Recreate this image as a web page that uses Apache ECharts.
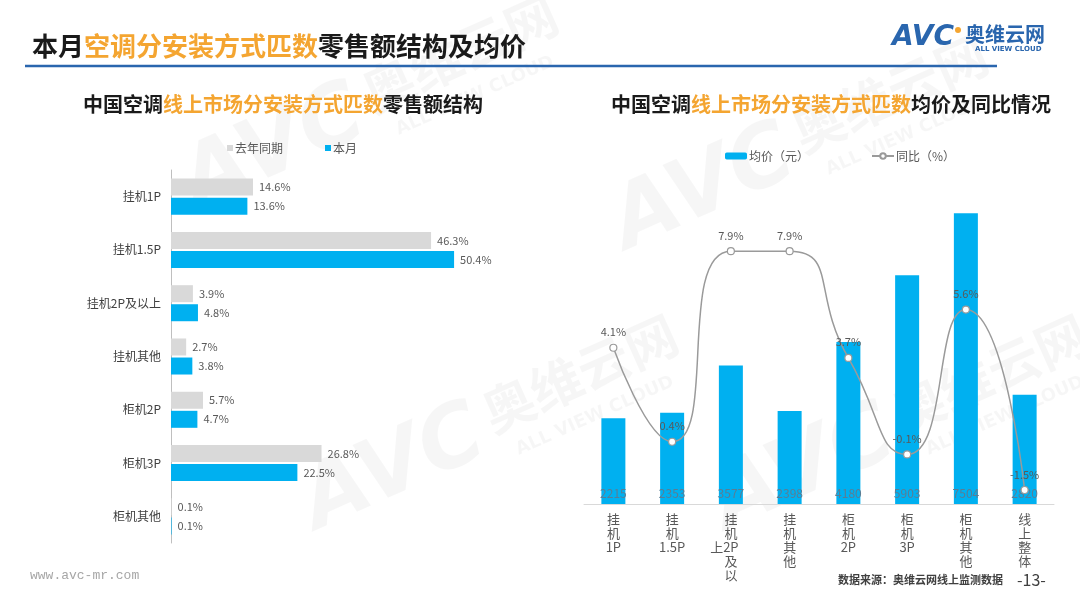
<!DOCTYPE html>
<html>
<head>
<meta charset="utf-8">
<script src="https://cdn.jsdelivr.net/npm/echarts@6/dist/echarts.min.js"></script>
<style>
  html, body { margin: 0; padding: 0; background: #fff; }
  #main { width: 1080px; height: 607px; }
</style>
</head>
<body>
<div id="main"></div>
<script>
// left chart: share of retail sales
const shareCats = ['挂机1P', '挂机1.5P', '挂机2P及以上', '挂机其他', '柜机2P', '柜机3P', '柜机其他'];
const shareLastYear = [14.6, 46.3, 3.9, 2.7, 5.7, 26.8, 0.1];
const shareThisMonth = [13.6, 50.4, 4.8, 3.8, 4.7, 22.5, 0.1];

// right chart: average price and yoy
const priceCats = ['挂机1P', '挂机1.5P', '挂机2P及以上', '挂机其他', '柜机2P', '柜机3P', '柜机其他', '线上整体'];
const avgPrice = [2215, 2353, 3577, 2398, 4180, 5903, 7504, 2820];
const yoy = [4.1, 0.4, 7.9, 7.9, 3.7, -0.1, 5.6, -1.5];

const colors = {
  blue: '#00B0F0',
  grey: '#D9D9D9',
  orange: '#F4A531',
  text: '#595959',
  dark: '#1A1A1A',
  line: '#9A9A9A',
  navy: '#2A66AE'
};
const font = '"Noto Sans CJK SC", "Noto Sans", sans-serif';

// vertical category text: chinese chars stacked, latin runs kept together
function verticalLabel(name) {
  const tokens = name.match(/[A-Za-z0-9.]+|./g);
  const maxRows = 5;
  const main = tokens.slice(0, maxRows);
  const extra = tokens.slice(maxRows);
  return main.map(function (t, i) {
    if (i === 2 && extra.length) {
      const e = extra.join('');
      return '{c|' + e + '}{c|' + t + '}{h|' + e + '}';
    }
    return '{c|' + t + '}';
  }).join('\n');
}

const chart = echarts.init(document.getElementById('main'));

const wmFill = 'rgba(0,0,0,0.035)';
const watermark = function (x, y) {
  return {
    type: 'group', x: x, y: y, rotation: 0.42, silent: true, z: -10,
    children: [
      { type: 'text', x: 0, y: 0, style: { text: 'AVC', fontSize: 86, fontWeight: 'bold', fontStyle: 'italic', fontFamily: 'DejaVu Sans', fill: wmFill } },
      { type: 'text', x: 200, y: 4, style: { text: '奥维云网', fontSize: 52, fontWeight: 'bold', fontFamily: font, fill: wmFill } },
      { type: 'text', x: 215, y: 66, style: { text: 'ALL VIEW CLOUD', fontSize: 18, fontWeight: 'bold', fontFamily: 'DejaVu Sans', fill: wmFill } }
    ]
  };
};

chart.setOption({
  textStyle: { fontFamily: font },
  animation: false,
  title: [
    {
      text: '{k|本月}{o|空调分安装方式匹数}{k|零售额结构及均价}',
      left: 27, top: 28,
      textStyle: {
        rich: {
          k: { fontSize: 26, fontWeight: 'bold', color: colors.dark, fontFamily: font },
          o: { fontSize: 26, fontWeight: 'bold', color: colors.orange, fontFamily: font }
        }
      }
    },
    {
      text: '{k|中国空调}{o|线上市场分安装方式匹数}{k|零售额结构}',
      left: 278, top: 89, textAlign: 'center',
      textStyle: {
        rich: {
          k: { fontSize: 20, fontWeight: 'bold', color: colors.dark, fontFamily: font },
          o: { fontSize: 20, fontWeight: 'bold', color: colors.orange, fontFamily: font }
        }
      }
    },
    {
      text: '{k|中国空调}{o|线上市场分安装方式匹数}{k|均价及同比情况}',
      left: 826, top: 89, textAlign: 'center',
      textStyle: {
        rich: {
          k: { fontSize: 20, fontWeight: 'bold', color: colors.dark, fontFamily: font },
          o: { fontSize: 20, fontWeight: 'bold', color: colors.orange, fontFamily: font }
        }
      }
    }
  ],
  legend: [
    {
      data: ['去年同期', '本月'],
      left: 222, top: 137, icon: 'rect', itemWidth: 6, itemHeight: 6, itemGap: 42,
      textStyle: { color: colors.text, fontSize: 12, padding: [0, 0, 0, -3] }
    },
    {
      data: ['均价（元）', { name: '同比（%）', icon: 'path://M0,5 L8,5 M16,5 L24,5 M12,2 A3,3 0 1 1 11.99,2 Z' }],
      left: 720, top: 145, itemWidth: 22, itemHeight: 7, itemGap: 62,
      textStyle: { color: colors.text, fontSize: 12, padding: [0, 0, 0, -3] }
    }
  ],
  grid: [
    { left: 171, top: 170, width: 337, height: 373 },
    { left: 584, top: 194, width: 470, height: 310 }
  ],
  xAxis: [
    { gridIndex: 0, type: 'value', min: 0, max: 60, show: false },
    {
      gridIndex: 1, type: 'category', data: priceCats,
      axisLine: { lineStyle: { color: '#D9D9D9' } },
      axisTick: { show: false },
      axisLabel: {
        interval: 0, margin: 8, color: colors.text, formatter: verticalLabel,
        rich: {
          c: { fontSize: 13, lineHeight: 14, color: colors.text, fontFamily: font },
          h: { fontSize: 13, lineHeight: 14, color: 'rgba(0,0,0,0)', fontFamily: font }
        }
      }
    }
  ],
  yAxis: [
    {
      gridIndex: 0, type: 'category', data: shareCats, inverse: true,
      axisLine: { lineStyle: { color: '#BFBFBF' } },
      axisTick: { show: false },
      axisLabel: { color: '#404040', fontSize: 12, margin: 10 }
    },
    { gridIndex: 1, type: 'value', min: 0, max: 8000, show: false },
    { gridIndex: 1, type: 'value', min: -2.05, max: 10.15, show: false }
  ],
  series: [
    {
      name: '去年同期', type: 'bar', xAxisIndex: 0, yAxisIndex: 0, data: shareLastYear,
      barWidth: 17, barGap: '12%',
      itemStyle: { color: colors.grey },
      label: { show: true, position: 'right', distance: 6, color: colors.text, fontSize: 11, formatter: '{c}%' }
    },
    {
      name: '本月', type: 'bar', xAxisIndex: 0, yAxisIndex: 0, data: shareThisMonth,
      barWidth: 17,
      itemStyle: { color: colors.blue },
      label: { show: true, position: 'right', distance: 6, color: colors.text, fontSize: 11, formatter: '{c}%' }
    },
    {
      name: '均价（元）', type: 'bar', xAxisIndex: 1, yAxisIndex: 1, data: avgPrice,
      barWidth: 24,
      itemStyle: { color: colors.blue },
      label: { show: true, position: 'insideBottom', distance: 5, color: '#5A7D94', fontSize: 12 }
    },
    {
      name: '同比（%）', type: 'line', xAxisIndex: 1, yAxisIndex: 2, data: yoy,
      smooth: 0.6, symbol: 'circle', symbolSize: 7,
      lineStyle: { color: colors.line, width: 1.5 },
      itemStyle: { color: '#fff', borderColor: colors.line, borderWidth: 1.2 },
      label: { show: true, position: 'top', distance: 6, color: colors.text, fontSize: 11, formatter: '{c}%' },
      z: 5
    }
  ],
  graphic: [
    watermark(170, 150),
    watermark(290, 470),
    watermark(600, 190),
    watermark(700, 470),
    { type: 'line', shape: { x1: 25, y1: 66, x2: 997, y2: 66 }, style: { stroke: colors.navy, lineWidth: 2.5 } },
    // logo
    { type: 'text', x: 892, y: 24, style: { text: 'AVC', fontSize: 28, fontWeight: 'bold', fontStyle: 'italic', fontFamily: 'DejaVu Sans', fill: colors.navy } },
    { type: 'circle', shape: { cx: 958, cy: 30, r: 3 }, style: { fill: colors.orange } },
    { type: 'text', x: 965, y: 24, style: { text: '奥维云网', fontSize: 20, fontWeight: 'bold', fontFamily: font, fill: colors.navy } },
    { type: 'text', x: 975, y: 46, style: { text: 'ALL VIEW CLOUD', fontSize: 7, fontWeight: 'bold', fontFamily: 'DejaVu Sans', fill: colors.navy } },
    // footer
    { type: 'text', x: 30, y: 569, style: { text: 'www.avc-mr.com', fontSize: 13, fontFamily: 'Liberation Mono', fill: '#A6A6A6' } },
    { type: 'text', x: 838, y: 574, style: { text: '数据来源：奥维云网线上监测数据', fontSize: 11, fontWeight: 'bold', fontFamily: font, fill: '#404040' } },
    { type: 'text', x: 1017, y: 572, style: { text: '-13-', fontSize: 16, fontFamily: font, fill: '#404040' } }
  ]
});
</script>
</body>
</html>
